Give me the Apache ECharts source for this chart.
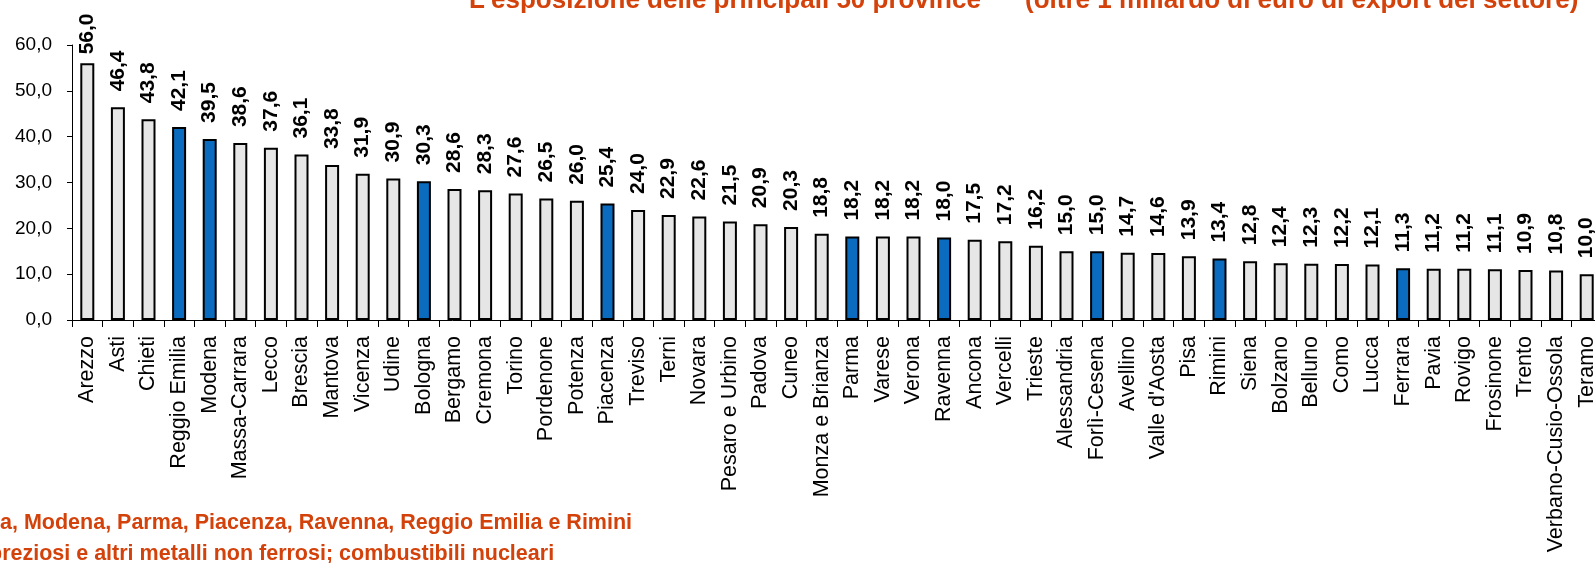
<!DOCTYPE html>
<html>
<head>
<meta charset="utf-8">
<script src="https://cdn.jsdelivr.net/npm/echarts@6/dist/echarts.min.js"></script>
<style>
  html, body { margin: 0; padding: 0; background: #fff; }
  #chart { width: 1595px; height: 563px; }
</style>
</head>
<body>
<div id="chart"></div>
<script>
// province (ordinate per quota di export del settore)
const province = ['Arezzo', 'Asti', 'Chieti', 'Reggio Emilia', 'Modena', 'Massa-Carrara', 'Lecco', 'Brescia',
  'Mantova', 'Vicenza', 'Udine', 'Bologna', 'Bergamo', 'Cremona', 'Torino', 'Pordenone', 'Potenza',
  'Piacenza', 'Treviso', 'Terni', 'Novara', 'Pesaro e Urbino', 'Padova', 'Cuneo', 'Monza e Brianza',
  'Parma', 'Varese', 'Verona', 'Ravenna', 'Ancona', 'Vercelli', 'Trieste', 'Alessandria', 'Forlì-Cesena',
  'Avellino', "Valle d'Aosta", 'Pisa', 'Rimini', 'Siena', 'Bolzano', 'Belluno', 'Como', 'Lucca', 'Ferrara',
  'Pavia', 'Rovigo', 'Frosinone', 'Trento', 'Verbano-Cusio-Ossola', 'Teramo'];
const valori = [56.0, 46.4, 43.8, 42.1, 39.5, 38.6, 37.6, 36.1, 33.8, 31.9, 30.9, 30.3, 28.6, 28.3, 27.6,
  26.5, 26.0, 25.4, 24.0, 22.9, 22.6, 21.5, 20.9, 20.3, 18.8, 18.2, 18.2, 18.2, 18.0, 17.5, 17.2, 16.2,
  15.0, 15.0, 14.7, 14.6, 13.9, 13.4, 12.8, 12.4, 12.3, 12.2, 12.1, 11.3, 11.2, 11.2, 11.1, 10.9, 10.8, 10.0];
// province emiliano-romagnole evidenziate in blu
const emiliaRomagna = ['Bologna', 'Ferrara', 'Forlì-Cesena', 'Modena', 'Parma', 'Piacenza', 'Ravenna',
  'Reggio Emilia', 'Rimini'];
const yTicks = [0, 10, 20, 30, 40, 50, 60];

const fmt = v => Number(v).toFixed(1).replace('.', ',');
const rosso = '#D4420C';
const sans = "'Liberation Sans', Arial, sans-serif";

const chart = echarts.init(document.getElementById('chart'));

const option = {
  animation: false,
  backgroundColor: '#fff',
  title: [
    {
      text: "L'esposizione delle principali 50 province",
      left: 469, top: -12, padding: 0,
      textStyle: { color: rosso, fontSize: 26, fontWeight: 'bold', fontFamily: sans }
    },
    {
      text: '(oltre 1 miliardo di euro di export del settore)',
      left: 1025, top: -12, padding: 0,
      textStyle: { color: rosso, fontSize: 26, fontWeight: 'bold', fontFamily: sans }
    },
    {
      text: 'a, Modena, Parma, Piacenza, Ravenna, Reggio Emilia e Rimini',
      left: 0, top: 512, padding: 0,
      textStyle: { color: rosso, fontSize: 21.5, fontWeight: 'bold', fontFamily: sans }
    },
    {
      text: 'preziosi e altri metalli non ferrosi; combustibili nucleari',
      left: -11, top: 543, padding: 0,
      textStyle: { color: rosso, fontSize: 21.5, fontWeight: 'bold', fontFamily: sans }
    }
  ],
  grid: { left: 72, top: 45, width: 1530, height: 275, containLabel: false, outerBoundsMode: 'none' },
  xAxis: {
    type: 'category',
    data: province,
    axisLine: { lineStyle: { color: '#000', width: 1 } },
    axisTick: { show: true, length: 7, lineStyle: { color: '#000' } },
    axisLabel: {
      interval: 0, rotate: 90, margin: 16, color: '#000', fontSize: 21.5, fontFamily: sans
    },
    splitLine: { show: false }
  },
  yAxis: {
    type: 'value',
    min: yTicks[0], max: yTicks[yTicks.length - 1], interval: 10,
    axisLine: { show: true, lineStyle: { color: '#000', width: 1 } },
    axisTick: { show: true, length: 5, lineStyle: { color: '#000' } },
    axisLabel: { formatter: fmt, margin: 20, color: '#000', fontSize: 19, fontFamily: sans },
    splitLine: { show: false }
  },
  series: [{
    type: 'bar',
    barWidth: 14,
    data: valori.map((v, i) => ({
      value: v,
      itemStyle: { color: emiliaRomagna.includes(province[i]) ? '#0B6BBE' : '#E6E6E6' },
      label: i === 0 ? { distance: 9 } : undefined
    })),
    itemStyle: { borderColor: '#000', borderWidth: 2 },
    label: {
      show: true, position: 'top', rotate: 90, align: 'left', verticalAlign: 'middle',
      distance: 16, color: '#000', fontSize: 21, fontWeight: 'bold', fontFamily: sans,
      formatter: p => fmt(p.value)
    }
  }]
};

chart.setOption(option);
</script>
</body>
</html>
